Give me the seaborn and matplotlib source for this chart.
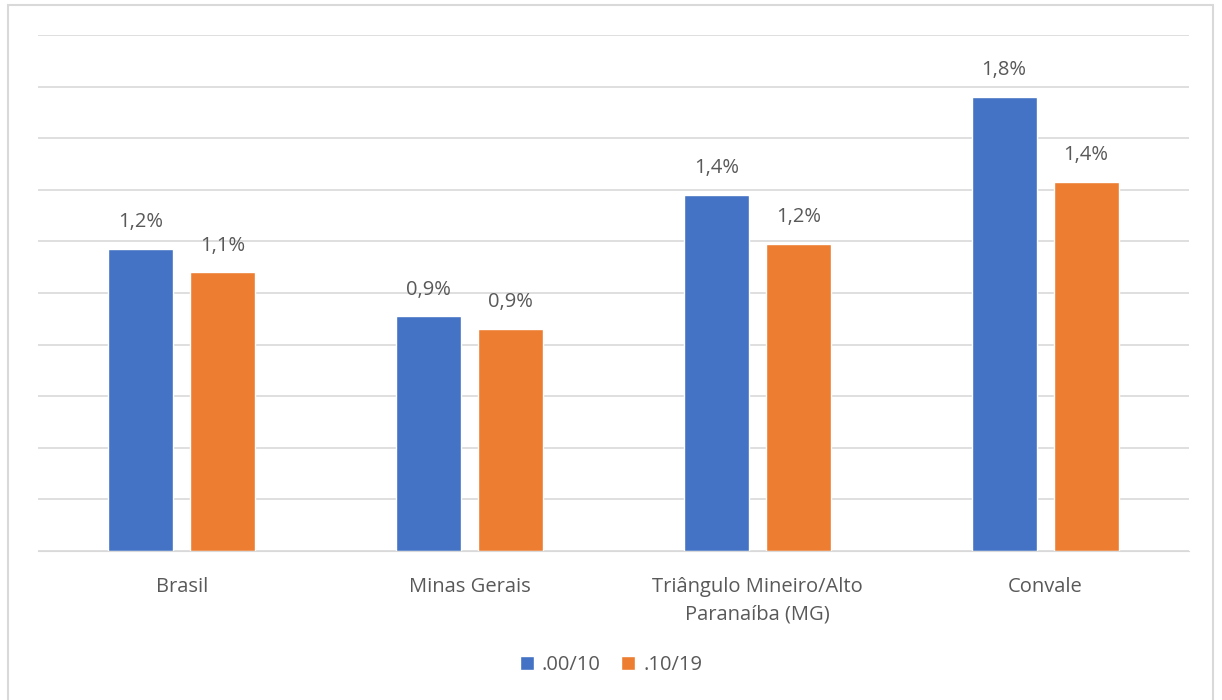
import matplotlib.pyplot as plt
import seaborn as sns
import pandas as pd
from matplotlib.patches import Rectangle

# valores (%)
regioes = ['Brasil', 'Minas Gerais', 'Triângulo Mineiro/Alto\nParanaíba (MG)', 'Convale']
periodos = ['.00/10', '.10/19']
taxa_00_10 = [1.17, 0.91, 1.38, 1.76]
taxa_10_19 = [1.08, 0.86, 1.19, 1.43]
rotulos_00_10 = ['1,2%', '0,9%', '1,4%', '1,8%']
rotulos_10_19 = ['1,1%', '0,9%', '1,2%', '1,4%']

df = pd.DataFrame({
    'regiao': regioes * 2,
    'periodo': [periodos[0]] * 4 + [periodos[1]] * 4,
    'taxa': taxa_00_10 + taxa_10_19,
})

sns.set_style('white')
plt.rcParams['font.family'] = ['Open Sans', 'DejaVu Sans']
cinza = '#595959'

fig = plt.figure(figsize=(12.22, 7.0), dpi=100)
ax = fig.add_axes([38 / 1222, 1 - 551 / 700, 1151 / 1222, 516 / 700])

sns.barplot(data=df, x='regiao', y='taxa', hue='periodo', order=regioes,
            hue_order=periodos, palette=['#4472C4', '#ED7D31'],
            width=0.57, gap=0.207, saturation=1, ax=ax)

for cont, rot in zip(ax.containers, [rotulos_00_10, rotulos_10_19]):
    ax.bar_label(cont, labels=rot, padding=12, fontsize=14.5, color=cinza)

ax.set_ylim(0, 2.0)
ax.set_yticks([i * 0.2 for i in range(11)])
ax.yaxis.grid(True, color='#d9d9d9', linewidth=1.2)
ax.set_axisbelow(True)
ax.tick_params(axis='y', left=False, labelleft=False)
ax.tick_params(axis='x', bottom=False, labelsize=14.5, labelcolor=cinza, pad=15)
for t in ax.get_xticklabels():
    t.set_linespacing(1.5)
ax.set_xlabel('')
ax.set_ylabel('')
for s in ['top', 'right', 'left']:
    ax.spines[s].set_visible(False)
ax.spines['bottom'].set_color('#d9d9d9')

ax.legend(loc='center', bbox_to_anchor=(0.5, (700 - 665) / 700), bbox_transform=fig.transFigure,
          ncol=2, frameon=False, fontsize=14.5, labelcolor=cinza, handlelength=0.7,
          handleheight=0.7, columnspacing=1.0, handletextpad=0.4)

fig.patches.append(Rectangle((8 / 1222, -0.01), 1205 / 1222, 1 - 5 / 700 + 0.01,
                             transform=fig.transFigure, fill=False,
                             edgecolor='#d9d9d9', linewidth=1.5))

fig.savefig('out.png', dpi=100)
